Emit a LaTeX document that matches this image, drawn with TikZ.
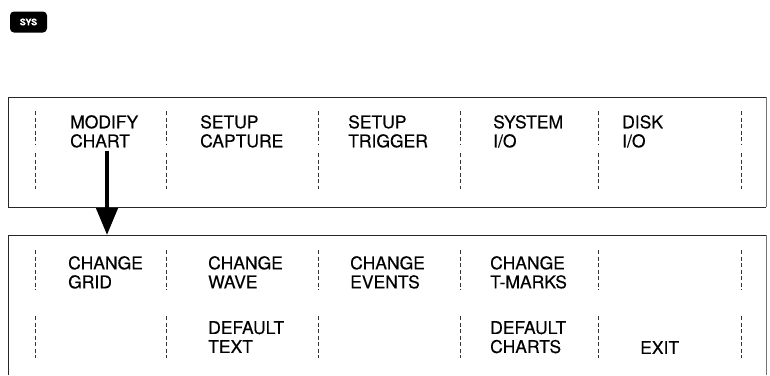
\documentclass[tikz,border=0pt]{standalone}
\usepackage{fontspec}
\setmainfont[FakeBold=0.3]{TeX Gyre Heros}
\usetikzlibrary{arrows.meta}
\tikzset{
  x=1pt, y=-1pt,
  frame/.style={draw=black!85, line width=0.9pt},
  sep/.style={draw=black!80, line width=0.8pt, dash pattern=on 4pt off 2.5pt},
  label/.style={anchor=north west, inner sep=0pt, align=left,
    font=\fontsize{17.5}{19}\selectfont},
  keycap/.style={fill=black, rounded corners=4pt, text=white, inner sep=0pt,
    minimum width=37pt, minimum height=21pt, font=\fontsize{9}{10}\selectfont\bfseries},
  bigarrow/.style={line width=4.5pt, -{Triangle[width=21pt,length=27pt]}},
}
\begin{document}
\begin{tikzpicture}
\useasboundingbox (0,0) rectangle (770,375);

% the SYS key
\node[keycap] (sys) at (28.5,22) {SYS};

% upper menu frame (open on the right page edge)
\draw[frame] (766,97) -- (8,97) -- (8,207) -- (766,207);
\draw[draw=black!55, line width=0.6pt] (766,97) -- (766,207);

% upper menu column separators
\foreach \x in {35,166,318,460,598,741}{
  \draw[sep] (\x,111) -- (\x,145);
  \draw[sep] (\x,153) -- (\x,189);
}

% upper menu soft keys
\node[label] (modify)  at (70,115)  {MODIFY\\CHART};
\node[label] (capture) at (200,115) {SETUP\\CAPTURE};
\node[label] (trigger) at (348,115) {SETUP\\TRIGGER};
\node[label] (sysio)   at (493,115) {SYSTEM\\I/O};
\node[label] (diskio)  at (622,115) {DISK\\I/O};

% lower menu frame (runs off the bottom)
\draw[frame] (8,375) -- (8,235) -- (766,235);
\draw[draw=black!55, line width=0.6pt] (766,235) -- (766,375);
\coordinate (lowertop) at (107,235);

% lower menu column separators
\foreach \x in {35,166,318,460,598,741}{
  \draw[sep] (\x,250) -- (\x,290);
  \draw[sep] (\x,316) -- (\x,358);
}

% lower menu soft keys
\node[label] (grid)    at (68,256)  {CHANGE\\GRID};
\node[label] (wave)    at (208,256) {CHANGE\\WAVE};
\node[label] (events)  at (350,256) {CHANGE\\EVENTS};
\node[label] (tmarks)  at (490,256) {CHANGE\\T-MARKS};
\node[label] (deftext) at (208,321) {DEFAULT\\TEXT};
\node[label] (defchrt) at (490,321) {DEFAULT\\CHARTS};
\node[label] (exit)    at (640,341) {EXIT};

% MODIFY CHART opens the lower menu
\coordinate (arrstart) at (modify.south west -| lowertop);
\draw[bigarrow] ([yshift=-3pt]arrstart) -- (lowertop);
\end{tikzpicture}
\end{document}
